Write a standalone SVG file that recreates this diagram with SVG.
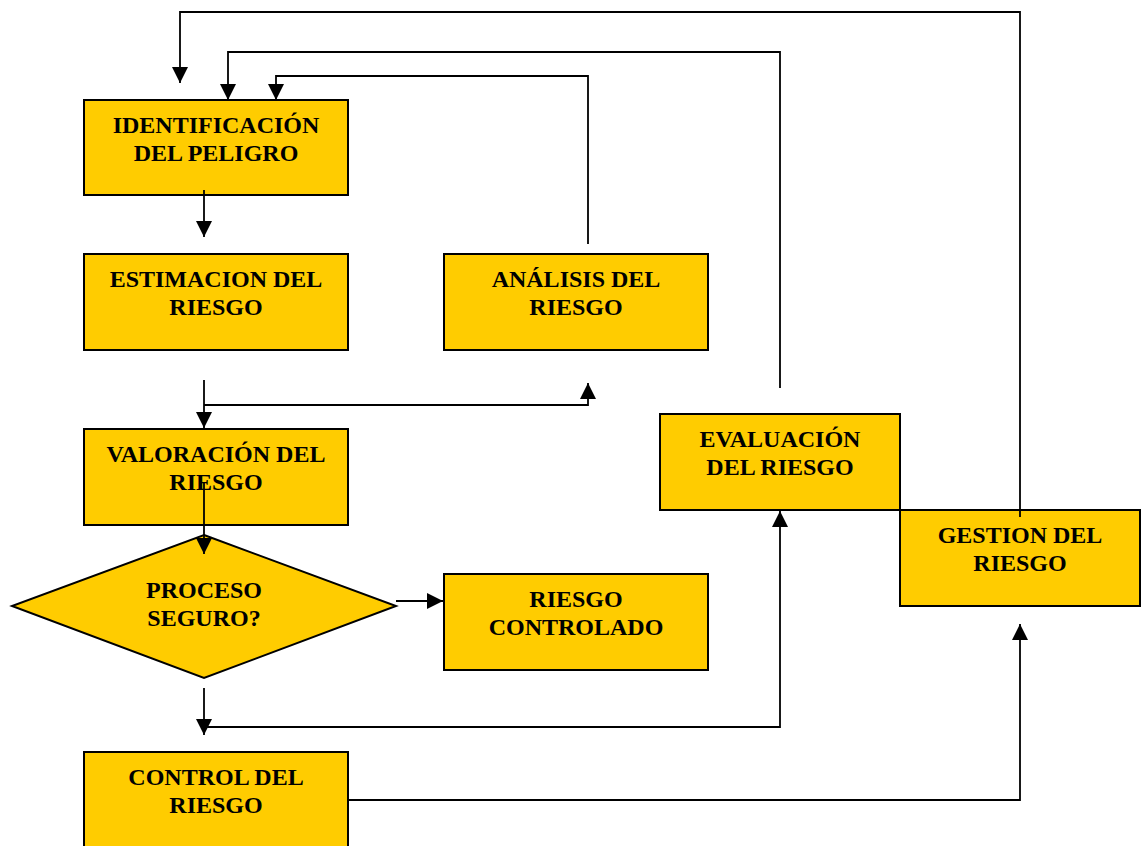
<svg xmlns="http://www.w3.org/2000/svg" width="1141" height="846" viewBox="0 0 1141 846">
<style>
.box{fill:#FFCC00;stroke:#000;stroke-width:2}
.t{font-family:"Liberation Serif","Times New Roman",serif;font-weight:bold;font-size:24px;fill:#000;text-anchor:middle}
.c{fill:none;stroke:#000;stroke-width:1.8}
.a{marker-end:url(#ah)}
</style>
<defs>
<marker id="ah" markerUnits="userSpaceOnUse" markerWidth="16" markerHeight="16" refX="16" refY="8" orient="auto" viewBox="0 0 16 16">
<path d="M0,0 L16,8 L0,16 z" fill="#000"/>
</marker>
</defs>
<rect width="1141" height="846" fill="#fff"/>
<g id="identificacion">
<rect class="box" x="84" y="100" width="264" height="95"/>
<text class="t" x="216" y="133">IDENTIFICACIÓN</text>
<text class="t" x="216" y="161">DEL PELIGRO</text>
</g>
<g id="estimacion">
<rect class="box" x="84" y="254" width="264" height="96"/>
<text class="t" x="216" y="287">ESTIMACION DEL</text>
<text class="t" x="216" y="315">RIESGO</text>
</g>
<g id="analisis">
<rect class="box" x="444" y="254" width="264" height="96"/>
<text class="t" x="576" y="287">ANÁLISIS DEL</text>
<text class="t" x="576" y="315">RIESGO</text>
</g>
<g id="valoracion">
<rect class="box" x="84" y="429" width="264" height="96"/>
<text class="t" x="216" y="462">VALORACIÓN DEL</text>
<text class="t" x="216" y="490">RIESGO</text>
</g>
<g id="proceso">
<polygon class="box" points="204,535 396,606 204,678 12,606"/>
<text class="t" x="204" y="598">PROCESO</text>
<text class="t" x="204" y="626">SEGURO?</text>
</g>
<g id="controlado">
<rect class="box" x="444" y="574" width="264" height="96"/>
<text class="t" x="576" y="607">RIESGO</text>
<text class="t" x="576" y="635">CONTROLADO</text>
</g>
<g id="evaluacion">
<rect class="box" x="660" y="414" width="240" height="96"/>
<text class="t" x="780" y="447">EVALUACIÓN</text>
<text class="t" x="780" y="475">DEL RIESGO</text>
</g>
<g id="gestion">
<rect class="box" x="900" y="510" width="240" height="96"/>
<text class="t" x="1020" y="543">GESTION DEL</text>
<text class="t" x="1020" y="571">RIESGO</text>
</g>
<g id="control">
<rect class="box" x="84" y="752" width="264" height="110"/>
<text class="t" x="216" y="785">CONTROL DEL</text>
<text class="t" x="216" y="813">RIESGO</text>
</g>
<g id="connectors">
<path class="c a" d="M204,190 L204,237"/>
<path class="c a" d="M204,380 L204,428"/>
<path class="c a" d="M204,405 L588,405 L588,383"/>
<path class="c a" d="M204,483 L204,554"/>
<path class="c a" d="M396,601 L443,601"/>
<path class="c a" d="M204,688 L204,735"/>
<path class="c a" d="M204,727 L780,727 L780,511"/>
<path class="c a" d="M348,800 L1020,800 L1020,624"/>
<path class="c a" d="M1020,517 L1020,12 L180,12 L180,83"/>
<path class="c a" d="M780,388 L780,52 L228,52 L228,100"/>
<path class="c a" d="M588,244 L588,76 L276,76 L276,100"/>
</g>
</svg>
